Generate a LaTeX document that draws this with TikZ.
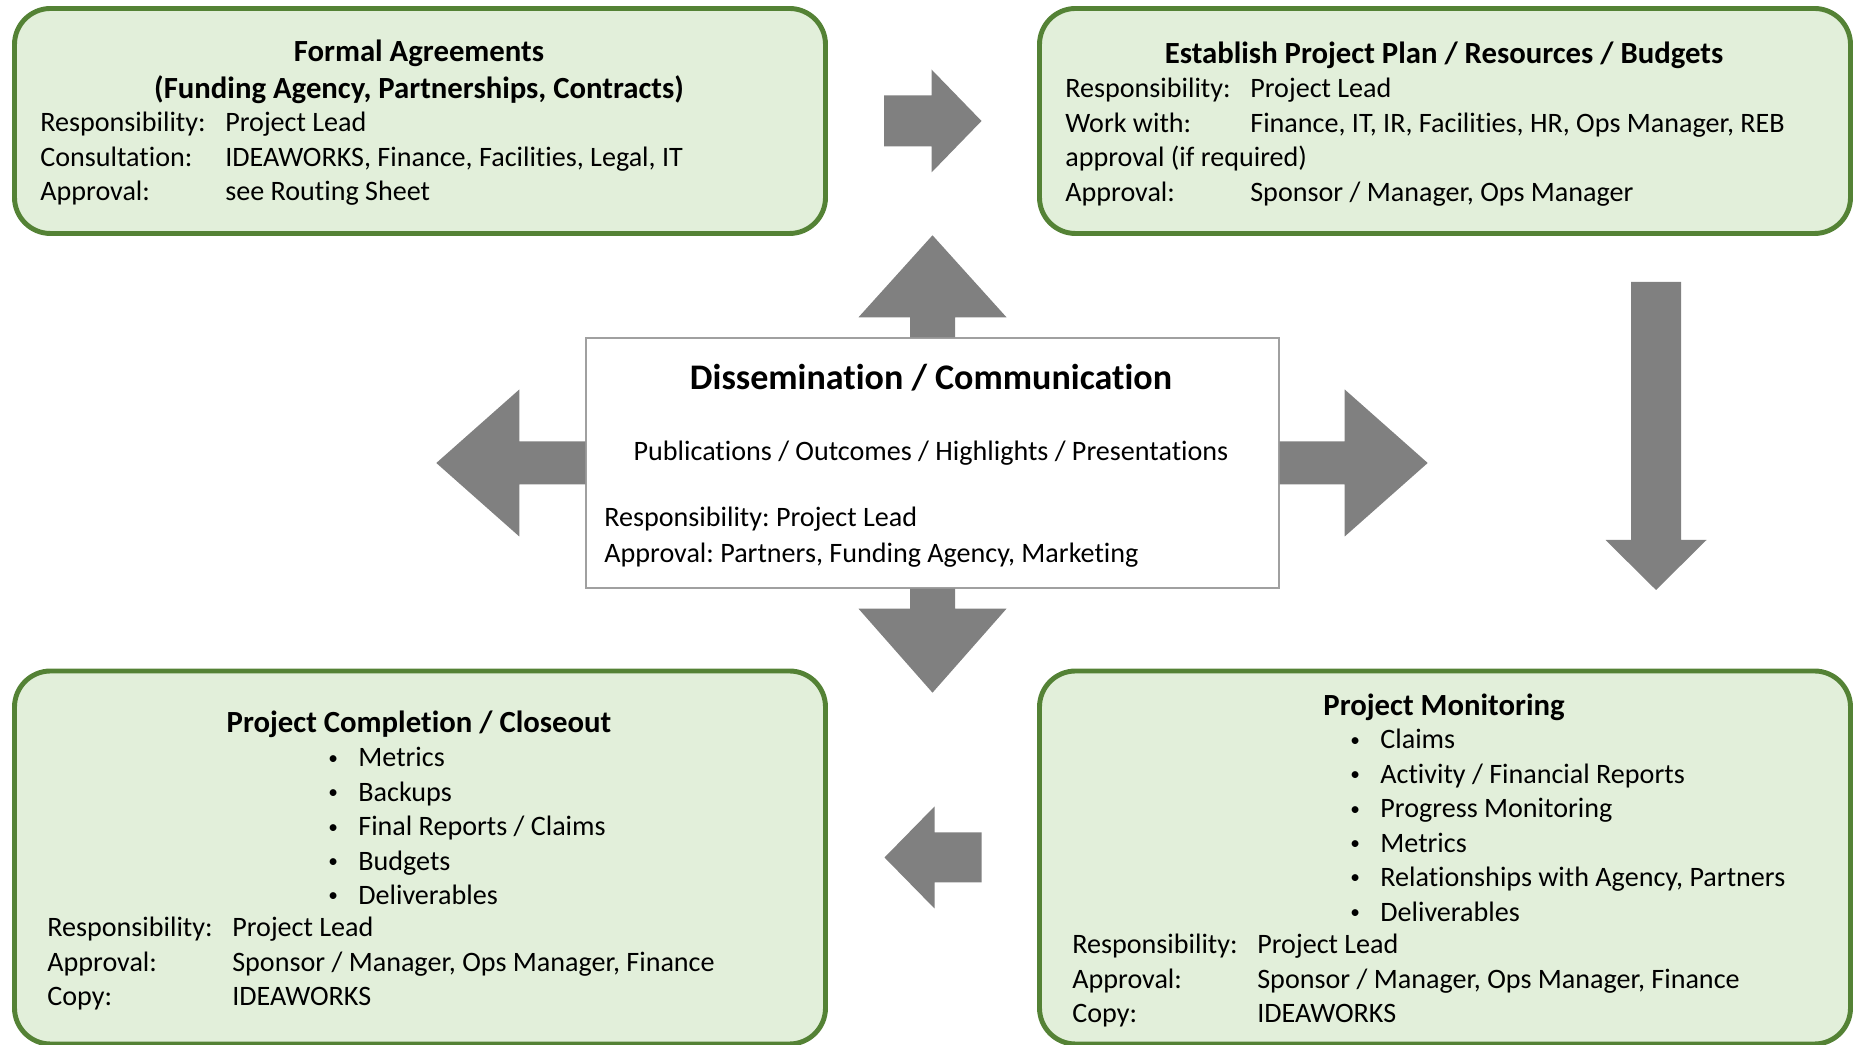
\documentclass[tikz,border=0pt]{standalone}
\usepackage{fontspec}
\setmainfont{Carlito}[Ligatures=NoCommon]
\usetikzlibrary{calc}

\definecolor{boxgreen}{HTML}{E2EFDA}
\definecolor{edgegreen}{HTML}{548235}
\definecolor{arrowgray}{HTML}{808080}
\definecolor{hubgray}{HTML}{A0A0A0}

\newcommand{\itemdot}{\raisebox{0.1em}{\fontsize{11}{11}\selectfont\textbullet}}

\begin{document}
\frenchspacing
\begin{tikzpicture}[
    phase/.style={draw=edgegreen, line width=2.8pt, fill=boxgreen, rounded corners=0.72cm,
                  minimum width=16.22cm, inner sep=0},
    hub/.style={draw=hubgray, line width=0.8pt, fill=white, minimum width=13.86cm,
                minimum height=5cm, inner sep=0},
    txt/.style={inner sep=0, font=\fontsize{16}{19.6}\selectfont},
    head/.style={inner sep=0, font=\fontsize{17.5}{20.9}\selectfont\bfseries},
    blockarrow/.style={fill=arrowgray}
]
    \useasboundingbox (0,0) rectangle (37.2,20.9);

    % the four phases and the hub
    \node[phase, minimum height=4.5cm] (agree) at (8.4,18.48) {};
    \node[phase, minimum height=4.5cm] (plan) at (28.9,18.48) {};
    \node[phase, minimum height=7.46cm] (closeout) at (8.4,3.75) {};
    \node[phase, minimum height=7.46cm] (monitor) at (28.9,3.75) {};
    \node[hub] (dissem) at (18.65,11.64) {};

    \node[head, anchor=base] (agreetitle) at (8.38,19.66)
        {\begin{tabular}[t]{@{}c@{}}Formal Agreements\\
         (Funding Agency, Partnerships, Contracts)\end{tabular}};
    \node[txt, anchor=base west] (agreeinfo) at (0.8,18.26)
        {\begin{tabular}[t]{@{}p{3.7cm}@{}l@{}}
         Responsibility: & Project Lead\\
         Consultation: & IDEAWORKS, Finance, Facilities, Legal, IT\\
         Approval: & see Routing Sheet
         \end{tabular}};

    \node[head, anchor=base] (plantitle) at (28.88,19.63)
        {Establish Project Plan / Resources / Budgets};
    \node[txt, anchor=base west] (planinfo) at (21.3,18.94)
        {\begin{tabular}[t]{@{}p{3.7cm}@{}l@{}}
         Responsibility: & Project Lead\\
         Work with: & Finance, IT, IR, Facilities, HR, Ops Manager, REB\\
         \multicolumn{2}{@{}l@{}}{approval (if required)}\\
         Approval: & Sponsor / Manager, Ops Manager
         \end{tabular}};

    \node[inner sep=0, font=\fontsize{20.5}{24}\selectfont\bfseries, anchor=base]
        (dissemtitle) at (18.62,13.1) {Dissemination / Communication};
    \node[txt, anchor=base] (dissemitems) at (18.62,11.69)
        {Publications / Outcomes / Highlights / Presentations};
    \node[txt, anchor=base west] (disseminfo) at (12.08,10.37)
        {\begin{tabular}[t]{@{}l@{}}
         Responsibility: Project Lead\\[1pt]
         Approval: Partners, Funding Agency, Marketing
         \end{tabular}};

    \node[head, anchor=base] (closeouttitle) at (8.38,6.24)
        {Project Completion / Closeout};
    \node[txt, anchor=base west] (closeoutlist) at (6.56,5.56)
        {\begin{tabular}[t]{@{}p{0.6cm}@{}l@{}}
         \itemdot & Metrics\\
         \itemdot & Backups\\
         \itemdot & Final Reports / Claims\\
         \itemdot & Budgets\\
         \itemdot & Deliverables
         \end{tabular}};
    \node[txt, anchor=base west] (closeoutinfo) at (0.94,2.16)
        {\begin{tabular}[t]{@{}p{3.7cm}@{}l@{}}
         Responsibility: & Project Lead\\
         Approval: & Sponsor / Manager, Ops Manager, Finance\\
         Copy: & IDEAWORKS
         \end{tabular}};

    \node[head, anchor=base] (monitortitle) at (28.88,6.59)
        {Project Monitoring};
    \node[txt, anchor=base west] (monitorlist) at (27.0,5.92)
        {\begin{tabular}[t]{@{}p{0.6cm}@{}l@{}}
         \itemdot & Claims\\
         \itemdot & Activity / Financial Reports\\
         \itemdot & Progress Monitoring\\
         \itemdot & Metrics\\
         \itemdot & Relationships with Agency, Partners\\
         \itemdot & Deliverables
         \end{tabular}};
    \node[txt, anchor=base west] (monitorinfo) at (21.44,1.82)
        {\begin{tabular}[t]{@{}p{3.7cm}@{}l@{}}
         Responsibility: & Project Lead\\
         Approval: & Sponsor / Manager, Ops Manager, Finance\\
         Copy: & IDEAWORKS
         \end{tabular}};

    % arrows out of the hub
    \fill[blockarrow, shift={(dissem.north)}] (-0.45,0) -- (-0.45,0.4) -- (-1.48,0.4)
        -- (0,2.04) -- (1.48,0.4) -- (0.45,0.4) -- (0.45,0) -- cycle;
    \fill[blockarrow, shift={(dissem.south)}] (-0.45,0) -- (-0.45,-0.4) -- (-1.48,-0.4)
        -- (0,-2.08) -- (1.48,-0.4) -- (0.45,-0.4) -- (0.45,0) -- cycle;
    \fill[blockarrow, shift={(dissem.west)}] (0,0.43) -- (-1.32,0.43) -- (-1.32,1.47)
        -- (-2.98,0) -- (-1.32,-1.47) -- (-1.32,-0.43) -- (0,-0.43) -- cycle;
    \fill[blockarrow, shift={(dissem.east)}] (0,0.43) -- (1.3,0.43) -- (1.3,1.47)
        -- (2.96,0) -- (1.3,-1.47) -- (1.3,-0.43) -- (0,-0.43) -- cycle;

    % arrows between the phases
    \fill[blockarrow, shift={($(agree.east)!.5!(plan.west)$)}] (-0.97,-0.51) -- (-0.02,-0.51)
        -- (-0.02,-1.03) -- (0.98,0) -- (-0.02,1.03) -- (-0.02,0.51) -- (-0.97,0.51) -- cycle;
    \fill[blockarrow] (32.62,15.26) -- (33.62,15.26) -- (33.62,10.1) -- (34.13,10.1)
        -- (33.12,9.1) -- (32.11,10.1) -- (32.62,10.1) -- cycle;
    \fill[blockarrow, shift={($(closeout.east)!.5!(monitor.west)$)}] (0.98,-0.5) -- (0.04,-0.5)
        -- (0.04,-1.02) -- (-0.96,0) -- (0.04,1.02) -- (0.04,0.5) -- (0.98,0.5) -- cycle;
\end{tikzpicture}
\end{document}
